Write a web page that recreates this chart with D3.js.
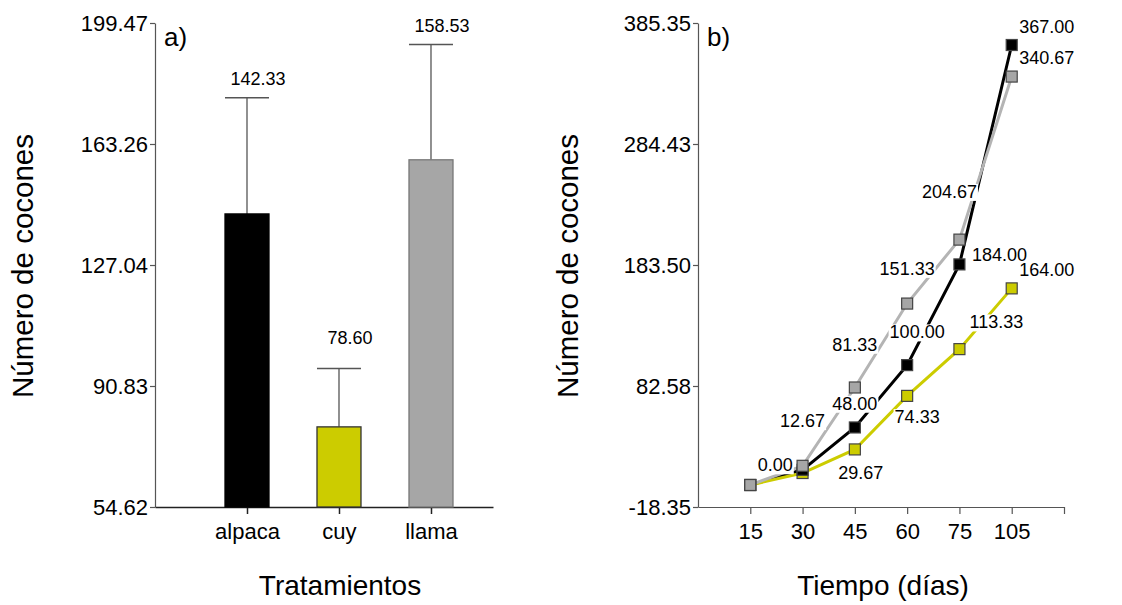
<!DOCTYPE html>
<html><head><meta charset="utf-8">
<script src="https://cdn.jsdelivr.net/npm/d3@7"></script>
<style>body{margin:0;background:#fff}svg{display:block;font-family:"Liberation Sans",Arial,sans-serif}</style>
</head><body>
<svg id="c" width="1122" height="605"></svg>
<script>
// ---- Panel a data ----
const treatments = ["alpaca", "cuy", "llama"];
const treatMeans = [142.33, 78.60, 158.53];
const treatSD = [34.8, 17.5, 34.5];
const treatColors = ["#000000", "#cccc00", "#a6a6a6"];
const treatStroke = ["#000000", "#333333", "#777777"];
const treatLabelGap = [13, 24, 13];
const yTicksA = [54.62, 90.83, 127.04, 163.26, 199.47];

// ---- Panel b data ----
const days = ["15", "30", "45", "60", "75", "105"];
const alpacaSeries = [0, 12.67, 48.00, 100.00, 184.00, 367.00];
const llamaSeries = [0, 16.0, 81.33, 151.33, 204.67, 340.67];
const cuySeries = [0, 10.0, 29.67, 74.33, 113.33, 164.00];
const yTicksB = [-18.35, 82.58, 183.50, 284.43, 385.35];

// label annotations (point index, offset of label centre)
const labelsAlpaca = [[1, 0, -49], [2, 0, -24], [3, 10, -33], [4, 40, -10], [5, 35, -18]];
const labelsLlama = [[0, 25, -20], [2, 0, -43], [3, 0, -35], [4, -10, -48], [5, 35, -19]];
const labelsCuy = [[2, 6, 23], [3, 10, 21], [4, 37, -27], [5, 35, -19]];

const svg = d3.select("#c");
const axisCol = "#555";
const fmt = d => d3.format(".2f")(d).replace("\u2212", "-");

// ================= Panel a =================
const ya = d3.scaleLinear().domain([54.62, 199.47]).range([507, 23]);
const xa = d3.scaleLinear().domain([0, 3.674]).range([155, 493]);
const barW = 44;
const ga = svg.append("g");

const yAxA = ga.append("g").attr("transform", "translate(155,0)")
  .call(d3.axisLeft(ya).tickValues(yTicksA).tickFormat(fmt).tickSize(5).tickSizeOuter(0));
yAxA.select(".domain").attr("stroke", axisCol).attr("stroke-width", 1.2);
yAxA.selectAll(".tick line").attr("stroke", axisCol).attr("stroke-width", 1.2);
yAxA.selectAll("text").attr("font-size", 22).attr("fill", "#000").attr("x", -7).attr("dy", "0.36em")
  .attr("font-family", "Liberation Sans, Arial, sans-serif");

const xAxA = ga.append("g").attr("transform", "translate(0,507)")
  .call(d3.axisBottom(xa).tickValues([1, 2, 3]).tickFormat(i => treatments[i - 1]).tickSize(7).tickSizeOuter(0));
xAxA.select(".domain").attr("stroke", "#222").attr("stroke-width", 1.5);
xAxA.selectAll(".tick line").attr("stroke", "#222").attr("stroke-width", 1.5);
xAxA.selectAll("text").attr("font-size", 22).attr("fill", "#000").attr("y", 16)
  .attr("font-family", "Liberation Sans, Arial, sans-serif");

treatments.forEach((t, i) => {
  const cx = xa(i + 1);
  const top = ya(treatMeans[i] + treatSD[i]);
  ga.append("line").attr("x1", cx).attr("x2", cx).attr("y1", ya(treatMeans[i])).attr("y2", top)
    .attr("stroke", "#555").attr("stroke-width", 1.3);
  ga.append("line").attr("x1", cx - barW / 2).attr("x2", cx + barW / 2).attr("y1", top).attr("y2", top)
    .attr("stroke", "#555").attr("stroke-width", 1.5);
  ga.append("text").attr("x", cx + 11).attr("y", top - treatLabelGap[i]).attr("text-anchor", "middle")
    .attr("font-size", 18).text(treatMeans[i].toFixed(2));
});
ga.selectAll("rect.bar").data(treatMeans).join("rect").attr("class", "bar")
  .attr("x", (d, i) => xa(i + 1) - barW / 2).attr("width", barW)
  .attr("y", d => ya(d)).attr("height", d => ya(54.62) - ya(d))
  .attr("fill", (d, i) => treatColors[i]).attr("stroke", (d, i) => treatStroke[i]).attr("stroke-width", 1.3);

ga.append("text").attr("x", 164).attr("y", 46).attr("font-size", 26).text("a)");
ga.append("text").attr("transform", "translate(33,266) rotate(-90)").attr("text-anchor", "middle")
  .attr("font-size", 29.5).text("Número de cocones");
ga.append("text").attr("x", 340).attr("y", 595).attr("text-anchor", "middle")
  .attr("font-size", 28).text("Tratamientos");

// ================= Panel b =================
const yb = d3.scaleLinear().domain([-18.35, 385.35]).range([507, 23]);
const xb = d3.scaleLinear().domain([0, 7]).range([698, 1064]);
const gb = svg.append("g");

const yAxB = gb.append("g").attr("transform", "translate(698,0)")
  .call(d3.axisLeft(yb).tickValues(yTicksB).tickFormat(fmt).tickSize(5).tickSizeOuter(0));
yAxB.select(".domain").attr("stroke", axisCol).attr("stroke-width", 1.2);
yAxB.selectAll(".tick line").attr("stroke", axisCol).attr("stroke-width", 1.2);
yAxB.selectAll("text").attr("font-size", 22).attr("fill", "#000").attr("x", -7).attr("dy", "0.36em")
  .attr("font-family", "Liberation Sans, Arial, sans-serif");

const xAxB = gb.append("g").attr("transform", "translate(0,507)")
  .call(d3.axisBottom(xb).tickValues([1, 2, 3, 4, 5, 6, 7]).tickFormat(i => days[i - 1] || "").tickSize(7).tickSizeOuter(0));
xAxB.select(".domain").attr("stroke", axisCol).attr("stroke-width", 1.2);
xAxB.selectAll(".tick line").attr("stroke", axisCol).attr("stroke-width", 1.2);
xAxB.selectAll("text").attr("font-size", 22).attr("fill", "#000").attr("y", 16)
  .attr("font-family", "Liberation Sans, Arial, sans-serif");

const series = [
  {name: "alpaca", vals: alpacaSeries, line: "#000000", fill: "#000000", labels: labelsAlpaca},
  {name: "cuy", vals: cuySeries, line: "#cccc00", fill: "#cccc00", labels: labelsCuy},
  {name: "llama", vals: llamaSeries, line: "#b4b4b4", fill: "#a6a6a6", labels: labelsLlama}
];
const lineGen = d3.line().x((d, i) => xb(i + 1)).y(d => yb(d));
series.forEach(s => {
  gb.append("path").datum(s.vals).attr("d", lineGen).attr("fill", "none")
    .attr("stroke", s.line).attr("stroke-width", 3);
});
const markerOrder = [series[1], series[0], series[2]];
const ms = 11;
markerOrder.forEach(s => {
  gb.selectAll(null).data(s.vals).join("rect")
    .attr("x", (d, i) => xb(i + 1) - ms / 2).attr("y", d => yb(d) - ms / 2)
    .attr("width", ms).attr("height", ms)
    .attr("fill", s.fill).attr("stroke", "#444").attr("stroke-width", 1.2);
});
const labelOrder = [series[0], series[2], series[1]];
labelOrder.forEach(s => {
  s.labels.forEach(([idx, dx, dy]) => {
    const cx = xb(idx + 1) + dx, cy = yb(s.vals[idx]) + dy;
    const g = gb.append("g");
    const r = g.append("rect").attr("fill", "#fff");
    const t = g.append("text").attr("x", cx).attr("y", cy).attr("dy", "0.35em")
      .attr("text-anchor", "middle").attr("font-size", 18).text(s.vals[idx].toFixed(2));
    const bb = t.node().getBBox();
    r.attr("x", bb.x - 1).attr("y", bb.y + 2).attr("width", bb.width + 2).attr("height", bb.height - 3);
  });
});

gb.append("text").attr("x", 707).attr("y", 46).attr("font-size", 26).text("b)");
gb.append("text").attr("transform", "translate(578,266) rotate(-90)").attr("text-anchor", "middle")
  .attr("font-size", 29.5).text("Número de cocones");
gb.append("text").attr("x", 883).attr("y", 595).attr("text-anchor", "middle")
  .attr("font-size", 28).text("Tiempo (días)");
</script>
</body></html>
